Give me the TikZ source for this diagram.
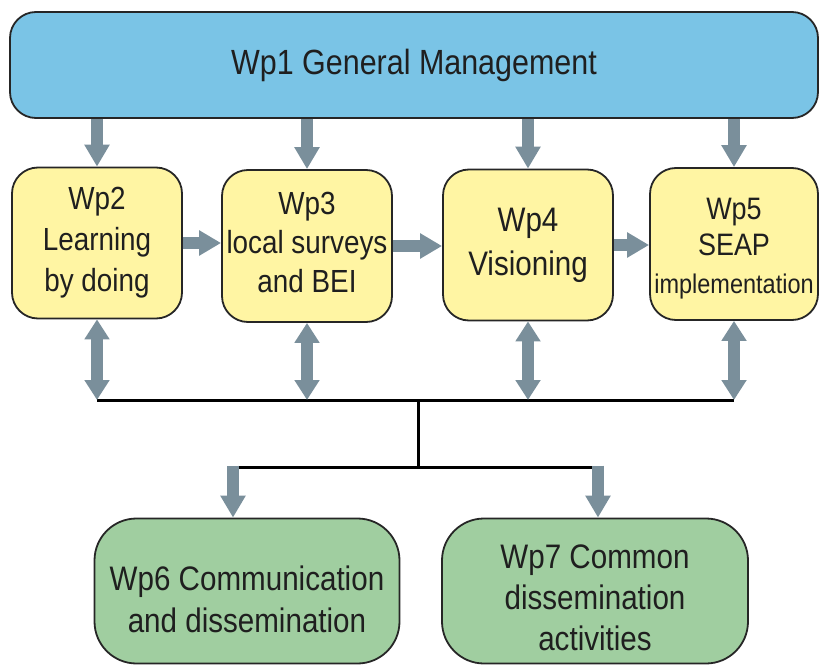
\documentclass[tikz,border=0pt]{standalone}
\usepackage{fontspec}
\setmainfont{Liberation Sans}[FakeStretch=0.87]
\usepackage{xcolor}
\usepackage{tikz}
\usetikzlibrary{arrows.meta}
\definecolor{mgmtblue}{RGB}{122,196,230}
\definecolor{wpyellow}{RGB}{255,245,163}
\definecolor{wpgreen}{RGB}{160,206,160}
\definecolor{arrgray}{RGB}{122,143,155}
\tikzset{
  wp/.style={draw=black!85,line width=1.8pt,align=center,text=black!88,inner sep=0pt},
  mgmt/.style={wp,fill=mgmtblue,rounded corners=26pt,minimum width=808pt,minimum height=106pt},
  task/.style={wp,fill=wpyellow,rounded corners=26pt,minimum width=170pt,minimum height=151pt},
  diss/.style={wp,fill=wpgreen,rounded corners=42pt,minimum width=305pt,minimum height=145pt},
  blk/.style={arrgray,line width=12pt,-{Triangle[length=22pt,width=24pt]}},
  dblk/.style={arrgray,line width=12pt,{Triangle[length=20pt,width=24pt]}-{Triangle[length=20pt,width=24pt]}},
  bus/.style={black,line width=3pt}
}
\newcommand{\wpsize}[2]{\fontsize{#1}{#2}\selectfont}
\newcommand{\up}[1]{\rule{0pt}{#1}}

\begin{document}
\begin{tikzpicture}[x=1pt,y=-1pt]
\useasboundingbox (0,0) rectangle (820,666);
% work packages
\node[mgmt,font=\wpsize{35}{40}] (wp1) at (414,65) {Wp1 General Management};
\node[task,font=\wpsize{32}{41}] (wp2) at (97,243) {Wp2\\Learning\\by doing};
\node[task,minimum height=152pt,font=\wpsize{32}{39}] (wp3) at (307,246) {Wp3\\local surveys\\and BEI\rule[-8pt]{0pt}{8pt}};
\node[task,font=\wpsize{34}{44}] (wp4) at (528,245) {Wp4\\Visioning};
\node[task,minimum width=168pt,minimum height=152pt,font=\wpsize{31}{36}] (wp5) at (734,244) {\up{30pt}Wp5\\SEAP\\[2pt]\wpsize{27}{30}implementation};
\node[diss,font=\wpsize{34}{42}] (wp6) at (247,591) {\up{42pt}Wp6 Communication\\and dissemination};
\node[diss,minimum width=306pt,font=\wpsize{34}{41}] (wp7) at (595,591) {\up{38pt}Wp7 Common\\dissemination\\activities};
% distribution lines
\coordinate (junc) at (418,400);
\coordinate (split) at (418,467);
\coordinate (to6) at (233,467);
\coordinate (to7) at (598,467);
\draw[bus] (wp2.south |- junc) -- (wp5.south |- junc);
\draw[bus] (junc) -- (split);
\draw[bus] (to6) -- (to7);
% arrows
\foreach \n in {wp2,wp3,wp4,wp5} {
  \draw[blk] (wp1.south -| \n.north) -- (\n.north);
  \draw[dblk] (\n.south) -- (\n.south |- junc);
}
\draw[blk] (wp2.east) -- (wp2.east -| wp3.west);
\draw[blk] (wp3.east) -- (wp3.east -| wp4.west);
\draw[blk] (wp4.east) -- (wp4.east -| wp5.west);
\draw[blk] ([yshift=1.5pt]to6) -- (to6 |- wp6.north);
\draw[blk] ([yshift=1.5pt]to7) -- (to7 |- wp7.north);
\end{tikzpicture}
\end{document}
